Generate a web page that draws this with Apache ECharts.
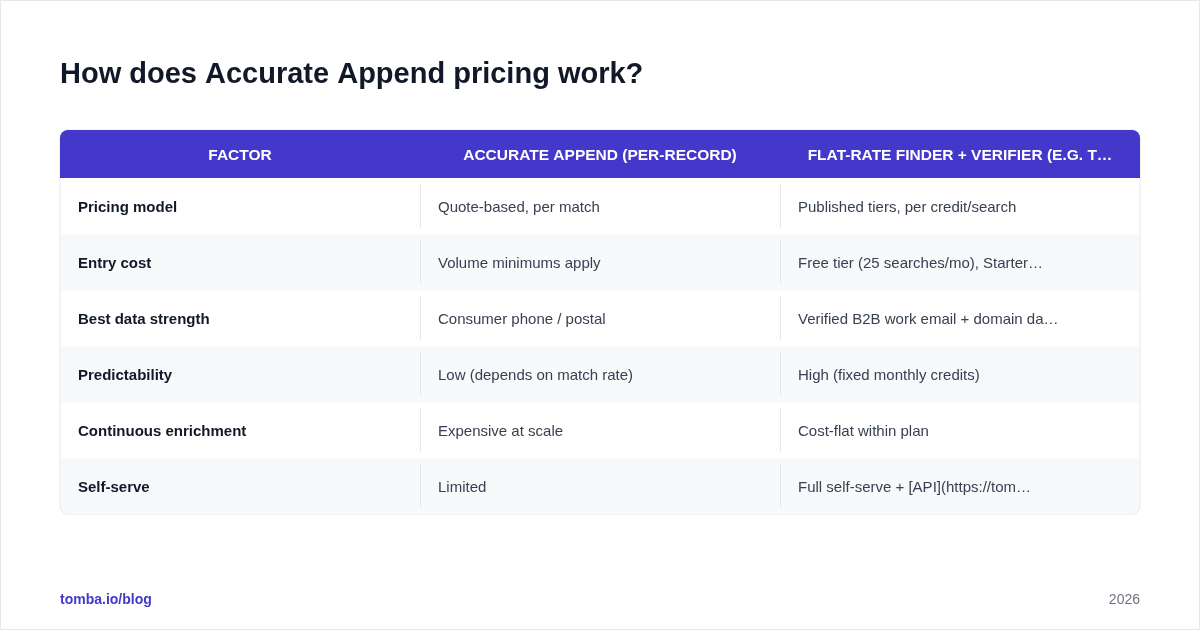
<!DOCTYPE html>
<html><head><meta charset="utf-8">
<script src="https://cdn.jsdelivr.net/npm/echarts@6/dist/echarts.min.js"></script>
<style>html,body{margin:0;padding:0;background:#fff}#c{width:1200px;height:630px}</style>
</head><body><div id="c"></div>
<script>
const title = "How does Accurate Append pricing work?";
const headers = ["FACTOR", "ACCURATE APPEND (PER-RECORD)", "FLAT-RATE FINDER + VERIFIER (E.G. T\u2026"];
const factors = ["Pricing model","Entry cost","Best data strength","Predictability","Continuous enrichment","Self-serve"];
const accurateAppend = ["Quote-based, per match","Volume minimums apply","Consumer phone / postal","Low (depends on match rate)","Expensive at scale","Limited"];
const flatRate = ["Published tiers, per credit/search","Free tier (25 searches/mo), Starter\u2026","Verified B2B work email + domain da\u2026","High (fixed monthly credits)","Cost-flat within plan","Full self-serve + [API](https://tom\u2026"];
const footerLeft = "tomba.io/blog";
const footerRight = "2026";

const F = '"Liberation Sans", Arial, Helvetica, sans-serif';
const X0 = 60, W = 1080, Y0 = 130, HH = 48, RH = 56, CW = 360;
const els = [];
els.push({type:'rect',shape:{x:0.5,y:0.5,width:1199,height:629},style:{fill:'#fff',stroke:'#e5e7eb',lineWidth:1}});
els.push({type:'text',style:{x:60,y:75,text:title,font:'bold 29px '+F,fill:'#111827',textVerticalAlign:'middle'}});
const TH = HH + RH*factors.length;
els.push({type:'rect',shape:{x:X0,y:Y0,width:W,height:TH,r:8},style:{fill:'#fff',stroke:'#e5e7eb',lineWidth:1}});
els.push({type:'rect',shape:{x:X0,y:Y0,width:W,height:HH,r:[8,8,0,0]},style:{fill:'#4338ca'}});
headers.forEach((h,i)=>els.push({type:'text',style:{x:X0+CW*i+CW/2,y:Y0+HH/2+2,text:h,font:'bold 15.5px '+F,fill:'#fff',textAlign:'center',textVerticalAlign:'middle'}}));
factors.forEach((f,r)=>{
  const y = Y0+HH+RH*r;
  if(r%2===1) els.push({type:'rect',shape:{x:X0+1,y:y,width:W-2,height:RH,r:r===factors.length-1?[0,0,8,8]:0},style:{fill:'#f8f9fb'}});
  [f,accurateAppend[r],flatRate[r]].forEach((t,c)=>{
    els.push({type:'text',style:{x:X0+CW*c+18,y:y+RH/2+2,text:t,font:(c===0?'bold ':'')+'15px '+F,fill:c===0?'#111827':'#374151',textVerticalAlign:'middle'}});
  });
  [1,2].forEach(c=>els.push({type:'line',shape:{x1:X0+CW*c+0.5,y1:y+6,x2:X0+CW*c+0.5,y2:y+RH-6},style:{stroke:'#e5e7eb',lineWidth:1}}));
});
els.push({type:'text',style:{x:60,y:600,text:footerLeft,font:'bold 14px '+F,fill:'#4338ca',textVerticalAlign:'middle'}});
els.push({type:'text',style:{x:1140,y:600,text:footerRight,font:'14px '+F,fill:'#6b7280',textAlign:'right',textVerticalAlign:'middle'}});
const chart = echarts.init(document.getElementById('c'));
chart.setOption({animation:false,graphic:{elements:els}});
</script></body></html>
